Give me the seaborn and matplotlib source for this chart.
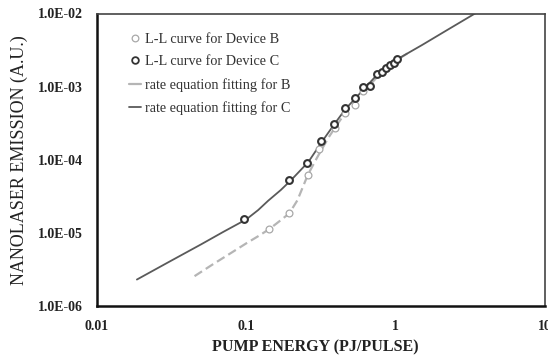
import matplotlib
matplotlib.use("Agg")
import matplotlib.pyplot as plt
import matplotlib.ticker as mticker
from matplotlib.lines import Line2D
import seaborn as sns
import pandas as pd

# measured L-L points
dev_b_x = [0.142, 0.194, 0.258, 0.308, 0.39, 0.46, 0.535, 0.60]
dev_b_y = [1.12e-5, 1.85e-5, 6.2e-5, 1.40e-4, 2.7e-4, 4.4e-4, 5.6e-4, 8.6e-4]

dev_c_x = [0.097, 0.194, 0.255, 0.316, 0.388, 0.458, 0.535, 0.60, 0.675,
           0.747, 0.807, 0.863, 0.917, 0.98, 1.02]
dev_c_y = [1.53e-5, 5.27e-5, 9.1e-5, 1.8e-4, 3.08e-4, 5.05e-4, 7.05e-4, 1.0e-3,
           1.02e-3, 1.49e-3, 1.6e-3, 1.78e-3, 1.97e-3, 2.12e-3, 2.36e-3]

# rate equation fits
fit_b_x = [0.045, 0.06, 0.08, 0.1, 0.12, 0.142, 0.17, 0.194, 0.22, 0.258,
           0.29, 0.316, 0.36, 0.4, 0.46, 0.54, 0.65, 0.8, 1.0, 1.2]
fit_b_y = [2.56e-6, 3.74e-6, 5.4e-6, 7.2e-6, 9.0e-6, 1.12e-5, 1.49e-5, 1.85e-5,
           2.8e-5, 6.2e-5, 9.7e-5, 1.33e-4, 2.1e-4, 2.9e-4, 4.4e-4, 6.4e-4,
           9.8e-4, 1.55e-3, 2.25e-3, 2.85e-3]

fit_c_x = [0.0185, 0.03, 0.05, 0.07, 0.1, 0.12, 0.14, 0.17, 0.2, 0.26, 0.32,
           0.39, 0.46, 0.54, 0.62, 0.75, 1.0, 1.5, 2.2, 3.4, 4.0]
fit_c_y = [2.3e-6, 3.96e-6, 7.0e-6, 1.03e-5, 1.53e-5, 2.05e-5, 2.75e-5, 3.85e-5,
           5.3e-5, 9.3e-5, 1.75e-4, 3.1e-4, 4.9e-4, 7.0e-4, 9.5e-4, 1.45e-3,
           2.3e-3, 3.7e-3, 5.9e-3, 1.0e-2, 1.2e-2]

x_ticks = [0.01, 0.1, 1, 10]
x_tick_labels = ["0.01", "0.1", "1", "10"]
y_ticks = [1e-6, 1e-5, 1e-4, 1e-3, 1e-2]

sns.set_style("white")
plt.rcParams["font.family"] = ["Liberation Serif", "DejaVu Serif"]

fig = plt.figure(figsize=(5.48, 3.6), dpi=100)
ax = fig.add_axes([0.177, 0.15, 0.8175, 0.8125])

fit_b = pd.DataFrame({"x": fit_b_x, "y": fit_b_y})
fit_c = pd.DataFrame({"x": fit_c_x, "y": fit_c_y})
pts_b = pd.DataFrame({"x": dev_b_x, "y": dev_b_y})
pts_c = pd.DataFrame({"x": dev_c_x, "y": dev_c_y})

sns.lineplot(data=fit_b, x="x", y="y", ax=ax, color="#b5b5b5", lw=1.6,
             linestyle=(0, (4, 2)), sort=False)
sns.lineplot(data=fit_c, x="x", y="y", ax=ax, color="#5a5a5a", lw=1.3, sort=False)
sns.scatterplot(data=pts_b, x="x", y="y", ax=ax, marker="o", s=24,
                facecolor="white", edgecolor="#a8a8a8", linewidth=0.9, zorder=3)
sns.scatterplot(data=pts_c, x="x", y="y", ax=ax, marker="o", s=24,
                facecolor="white", edgecolor="#333333", linewidth=1.5, zorder=4)

ax.set_xscale("log")
ax.set_yscale("log")
ax.set_xlim(0.01, 10)
ax.set_ylim(1e-6, 1e-2)
ax.set_xticks(x_ticks)
ax.set_xticklabels(x_tick_labels)
ax.set_yticks(y_ticks)
ax.yaxis.set_major_formatter(mticker.FuncFormatter(lambda v, p: "{:.1E}".format(v)))
ax.minorticks_off()
ax.tick_params(length=0, pad=10, labelsize=10)
for lab in ax.get_xticklabels() + ax.get_yticklabels():
    lab.set_fontweight("bold")
    lab.set_color("#222222")

for side in ["left", "bottom"]:
    ax.spines[side].set_linewidth(1.8)
    ax.spines[side].set_color("#111111")
for side in ["top", "right"]:
    ax.spines[side].set_linewidth(1.2)
    ax.spines[side].set_color("#444444")

ax.set_xlabel("PUMP ENERGY (PJ/PULSE)", fontsize=11.5, fontweight="bold",
              color="#222222")
ax.xaxis.set_label_coords(0.487, -0.115)
ax.set_ylabel("NANOLASER EMISSION (A.U.)", fontsize=13, color="#222222",
              labelpad=7)

handles = [
    Line2D([], [], marker="o", ls="none", ms=4.8, mfc="white", mec="#a8a8a8", mew=0.9),
    Line2D([], [], marker="o", ls="none", ms=4.8, mfc="white", mec="#333333", mew=1.3),
    Line2D([], [], color="#b5b5b5", lw=1.6),
    Line2D([], [], color="#5a5a5a", lw=1.3),
]
labels = ["L-L curve for Device B", "L-L curve for Device C",
          "rate equation fitting for B", "rate equation fitting for C"]
ax.legend(handles, labels, loc="upper left", bbox_to_anchor=(0.072, 0.935),
          frameon=False, fontsize=10.3, handlelength=0.8, handletextpad=0.3,
          labelspacing=0.68, borderpad=0, borderaxespad=0,
          labelcolor="#333333")

fig.savefig("out.png", dpi=100)
